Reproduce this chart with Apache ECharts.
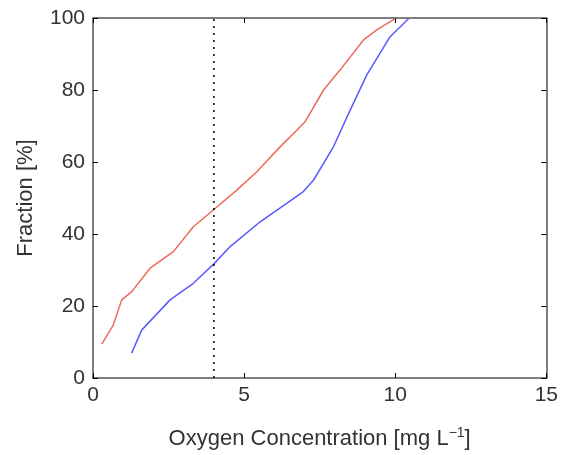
<!DOCTYPE html>
<html><head><meta charset="utf-8">
<script src="https://cdn.jsdelivr.net/npm/echarts@6/dist/echarts.min.js"></script>
<style>html,body{margin:0;padding:0;background:#fff}#c{width:561px;height:455px}</style>
</head><body><div id="c"></div>
<script>
const redX = [0.29,0.67,0.95,1.28,1.89,2.66,3.32,4.0,4.76,5.42,6.19,6.75,7.02,7.63,8.18,8.95,9.39,10.0];
const redY = [9.4,14.7,21.7,24.0,30.5,35.1,42.0,46.8,52.2,57.3,64.2,68.9,71.2,80.0,85.6,93.9,96.7,99.8];
const blueX = [1.28,1.61,2.55,3.32,4.0,4.54,5.53,6.41,6.96,7.3,7.96,8.51,9.06,9.83,10.44];
const blueY = [6.9,13.3,21.7,26.3,31.7,36.5,43.4,48.5,51.8,55.0,64.3,74.4,84.2,94.8,99.8];
const refX = 4;
const xTicks = [0,5,10,15];
const yTicks = [0,20,40,60,80,100];

const font = 'Liberation Sans, Arial, sans-serif';
const axisCol = '#555';
const chart = echarts.init(document.getElementById('c'));
const zip = (a,b)=>a.map((v,i)=>[v,b[i]]);
const tick = {inside:true,length:5,lineStyle:{color:'#000',width:1}};
const line = {onZero:false,lineStyle:{color:axisCol,width:1.5}};
chart.setOption({
  animation:false,
  grid:{left:93,right:14,top:18,bottom:77},
  xAxis:[{type:'value',min:xTicks[0],max:xTicks[xTicks.length-1],interval:5,
    axisLine:line, axisTick:tick, splitLine:{show:false},
    axisLabel:{color:'#333',fontSize:21,fontFamily:font,margin:7},
    name:'{n|Oxygen Concentration [mg L}{s|−1}{n|]}',nameLocation:'middle',nameGap:48,
    nameTextStyle:{rich:{n:{fontSize:22,fontFamily:font,color:'#333'},s:{fontSize:14,fontFamily:font,color:'#333',verticalAlign:'top',padding:[0,0,12,0]}}}
  },{type:'value',position:'top',min:0,max:15,interval:5,
    axisLine:line, axisTick:tick, axisLabel:{show:false},splitLine:{show:false}}],
  yAxis:[{type:'value',min:yTicks[0],max:yTicks[yTicks.length-1],interval:20,
    axisLine:line, axisTick:tick, splitLine:{show:false},
    axisLabel:{color:'#333',fontSize:21,fontFamily:font,margin:8},
    name:'Fraction [%]',nameLocation:'middle',nameGap:56,
    nameTextStyle:{fontSize:22,fontFamily:font,color:'#333'}
  },{type:'value',position:'right',min:0,max:100,interval:20,
    axisLine:line, axisTick:tick, axisLabel:{show:false},splitLine:{show:false}}],
  series:[
    {type:'line',data:zip(redX,redY),showSymbol:false,lineStyle:{color:'#ee6a5a',width:1.5}},
    {type:'line',data:zip(blueX,blueY),showSymbol:false,lineStyle:{color:'#5a5aff',width:1.5}},
    {type:'line',data:[[refX,0],[refX,100]],showSymbol:false,lineStyle:{color:'#000',width:1.5,type:[2,5]}}
  ]
});
</script></body></html>
